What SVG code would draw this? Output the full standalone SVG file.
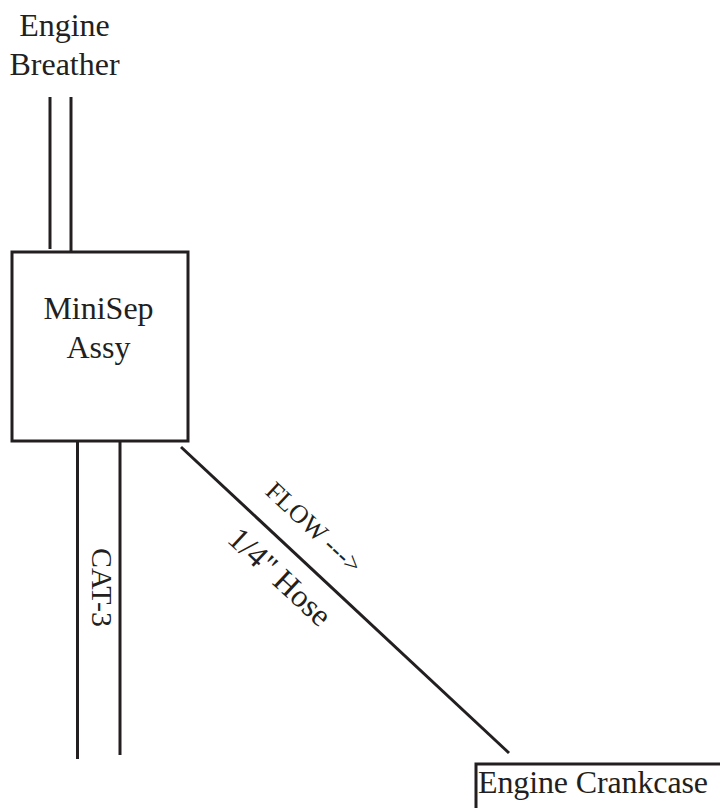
<svg xmlns="http://www.w3.org/2000/svg" width="720" height="808" viewBox="0 0 720 808">
<style>
text{font-family:"Liberation Serif","Times New Roman",serif;fill:#231f20}
.l{stroke:#231f20;stroke-width:3;fill:none}
.b{fill:#fff;stroke:#231f20;stroke-width:3}
.m{font-size:32px;text-anchor:middle}
</style>
<rect width="720" height="808" fill="#fff"/>
<g id="connectors">
<line class="l" x1="50" y1="97" x2="50" y2="249"/>
<line class="l" x1="71" y1="97" x2="71" y2="252"/>
<line class="l" x1="77.500" y1="441" x2="77.500" y2="759"/>
<line class="l" x1="120" y1="441" x2="120" y2="755"/>
<line class="l" x1="181" y1="447" x2="509" y2="753"/>
</g>
<g id="breather"><text class="m" x="64.500" y="36">Engine</text><text class="m" x="64.500" y="75">Breather</text></g>
<g id="minisep"><rect class="b" x="12" y="252" width="176" height="189"/><text class="m" x="98.500" y="319">MiniSep</text><text class="m" x="98.500" y="358">Assy</text></g>
<g id="crankcase"><path class="l" d="M476 808V764H720"/><text x="478" y="793" font-size="32" textLength="230">Engine Crankcase</text></g>
<g id="labels">
<text x="92" y="548" font-size="30" transform="rotate(90 92 548)">CAT-3</text>
<text x="264" y="493" font-size="26" transform="rotate(43 264 493)">FLOW ---&gt;</text>
<text x="226" y="541" font-size="32" transform="rotate(43 226 541)">1/4" Hose</text>
</g>
</svg>
